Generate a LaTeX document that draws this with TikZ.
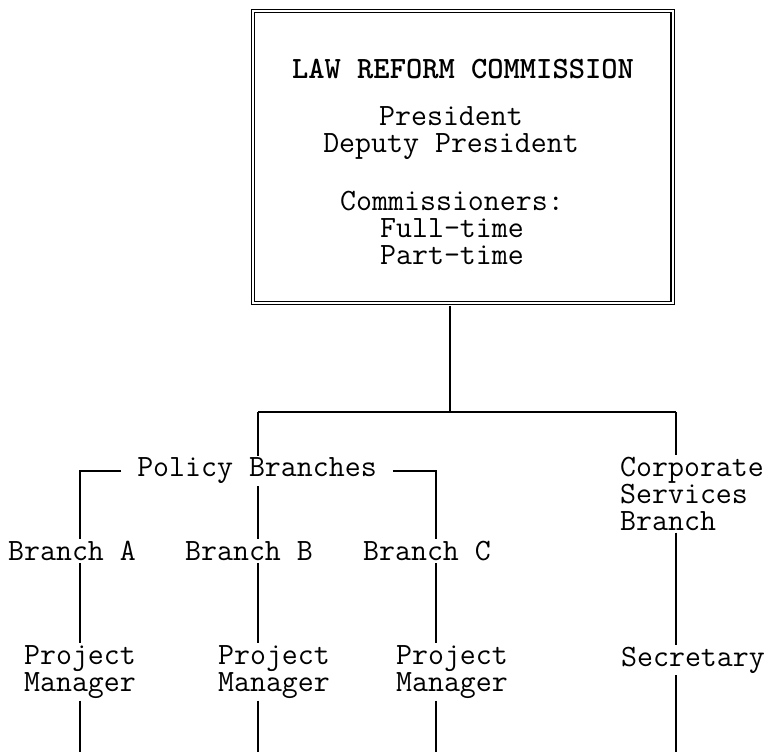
\documentclass[tikz,border=0pt]{standalone}
\usepackage{fontspec}
\usetikzlibrary{calc}
\tikzset{
    unit/.style={font=\ttfamily\fontsize{31}{26.7}\selectfont, inner sep=2pt, align=center},
    link/.style={line width=1.3pt},
}

\begin{document}
\begin{tikzpicture}[x=1pt, y=-1pt]
        \useasboundingbox (0,0) rectangle (769,752);
        % Columns of the chart
        \coordinate (colA) at (80,0);
        \coordinate (colB) at (258,0);
        \coordinate (colC) at (436,0);
        \coordinate (colS) at (676,0);
        \coordinate (hub)  at (450,412);
        \coordinate (foot) at (0,752);

        % Commission box
        \node[draw, double, line width=1.2pt, double distance=2pt, inner sep=0pt,
              minimum width=419.5pt, minimum height=292pt] (lrc) at (462.75,157) {};
        \node[unit, font=\ttfamily\bfseries\fontsize{31}{26.7}\selectfont] (title) at (463,69) {LAW REFORM COMMISSION};
        \node[unit] (pres) at (451,133) {President\\Deputy President};
        \node[unit] (comm) at (452,228) {Commissioners:\\Full-time\\Part-time};

        \node[unit, inner xsep=16pt] (policy) at (257,471) {Policy Branches};
        \node[unit, align=left, anchor=west] (corp) at (618,494) {Corporate\\Services\\Branch};
        \node[unit] (brA) at (72,551)  {Branch A};
        \node[unit] (brB) at (249,551) {Branch B};
        \node[unit] (brC) at (427,551) {Branch C};
        \node[unit] (pmA) at (80,672)  {Project\\Manager};
        \node[unit] (pmB) at (274,672) {Project\\Manager};
        \node[unit] (pmC) at (452,672) {Project\\Manager};
        \node[unit] (sec) at (693,660) {Secretary};

        \draw[link] (lrc.south -| hub) ++(0,2.2) -- (hub);
        \draw[link] (colB |- hub) -- (colS |- hub);
        \draw[link] (colB |- hub) -- (colB |- policy.north);
        \draw[link] (colS |- hub) -- (colS |- corp.north);
        \draw[link] (policy.west) -| (colA |- brA.north);
        \draw[link] (policy.east) -| (colC |- brC.north);
        \draw[link] (colB |- policy.south) -- (colB |- brB.north);
        \foreach \c in {A,B,C} {
            \draw[link] (col\c |- br\c.south) -- (col\c |- pm\c.north);
            \draw[link] (col\c |- pm\c.south) -- (col\c |- foot);
        }
        \draw[link] (colS |- corp.south) -- (colS |- sec.north);
        \draw[link] (colS |- sec.south) -- (colS |- foot);
\end{tikzpicture}
\end{document}
